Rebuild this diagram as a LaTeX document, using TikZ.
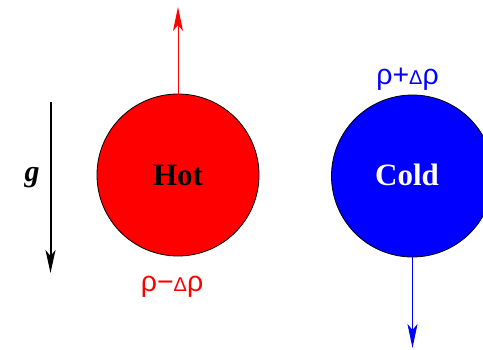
\documentclass[tikz,border=0pt]{standalone}
\usepackage{fontspec}
\setmainfont{Liberation Serif}
\newfontfamily\lsans{Liberation Sans}
\usetikzlibrary{arrows.meta}
\begin{document}
\begin{tikzpicture}[x=1pt,y=-1pt,
  ball/.style={circle,draw=black,line width=0.8pt,minimum size=162pt,inner sep=0pt},
  word/.style={font=\fontsize{31}{32}\selectfont\bfseries,inner sep=0pt},
  lbl/.style={font=\lsans\fontsize{28.5}{30}\selectfont,inner sep=0pt},
  tip/.style={-{Stealth[length=24pt,width=10pt,inset=6pt]}}]
\path[use as bounding box,clip] (0,0) rectangle (483,349);
\node[ball,fill=red] (hot) at (178,175) {};
\node[word] (hottxt) at (178,175) {Hot};
\node[ball,fill=blue] (cold) at (412.5,176) {};
\node[word,text=white] (coldtxt) at (407,175) {Cold};
\coordinate (gtop) at (50.5,102);
\coordinate (gbot) at (50.5,273);
\draw[line width=2pt,-{Stealth[length=23pt,width=10pt,inset=6pt]}] (gtop) -- (gbot);
\node[font=\fontsize{30}{30}\selectfont\bfseries\itshape] (g) at (32,178) {g};
\coordinate (rtip) at (178,7);
\draw[red,line width=1pt,tip] (hot.north) -- (rtip);
\coordinate (btip) at (412.5,348);
\draw[blue,line width=1pt,tip] (cold.south) -- (btip);
\node[lbl,text=red] (lminus) at (172,287) {ρ−{\fontsize{20}{20}\selectfont Δ}ρ};
\node[lbl,text=blue] (lplus) at (407.5,79) {ρ+{\fontsize{20}{20}\selectfont Δ}ρ};
\end{tikzpicture}
\end{document}
